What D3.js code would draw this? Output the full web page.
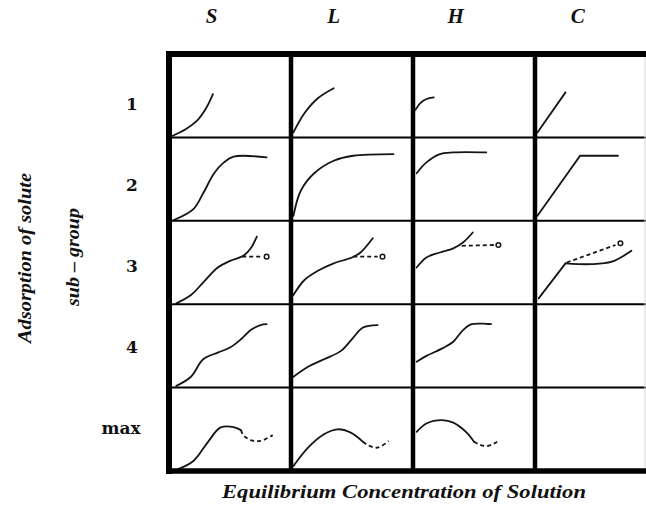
<!DOCTYPE html>
<html>
<head>
<meta charset="utf-8">
<script src="https://cdn.jsdelivr.net/npm/d3@7"></script>
<style>body{margin:0;background:#fff}svg{display:block}</style>
</head>
<body>
<svg id="chart" width="646" height="516"></svg>
<script>
// ---- data (cell-relative units: x 0..100 across cell, y 0..100 up cell) ----
const columns = ["S", "L", "H", "C"];
const rows = ["1", "2", "3", "4", "max"];
const xTitle = "Equilibrium Concentration of Solution";
const yTitle = "Adsorption of solute";
const yTitle2 = "sub \u2013 group";

const S1 = [[3,2],[14,10],[23,20],[30,34],[36,52]];
const L1 = [[2,6],[11,29],[22,47],[35,59]];
const H1 = [[2,33],[6,41],[11,46],[17,48]];
const C1 = [[2,6],[25,54]];

const S2 = [[4,1],[20,14],[28,33],[37,57],[45,70],[53,77],[80,76]];
const L2 = [[2,6],[8,36],[19,57],[35,72],[51,78],[84,80]];
const H2 = [[3,57],[11,70],[22,80],[33,82],[60,82]];
const C2 = [[2,6],[37,78],[68,78]];

const S3 = [[6,1],[18,11],[28,26],[40,44],[50,52],[61,58],[67,67],[72,81]];
const S3dash = [[60,57],[77,57]];
const S3mark = [80,57];
const L3 = [[2,11],[11,29],[22,40],[35,49],[50,56],[57,62],[67,79]];
const L3dash = [[51,57],[71,57]];
const L3mark = [75,57];
const H3 = [[3,44],[11,56],[22,62],[33,67],[41,74],[49,86]];
const H3dash = [[40,70],[67,71]];
const H3mark = [70,71];
const C3a = [[3,7],[25,49]];
const C3b = [[25,49],[46,48],[63,51],[79,64]];
const C3dash = [[26,50],[66,71]];
const C3mark = [70,73];

const S4 = [[6,2],[18,13],[28,34],[40,42],[50,48],[59,58],[67,69],[75,75],[80,76]];
const L4 = [[2,13],[14,25],[27,34],[41,44],[51,60],[59,72],[71,75]];
const H4 = [[3,31],[11,38],[24,47],[33,55],[41,69],[48,76],[64,76]];

const Smax = [[7,2],[20,12],[32,35],[42,52],[52,53],[59,49]];
const SmaxDash = [[59,49],[61,43],[67,37],[75,36],[85,43]];
const Lmax = [[2,6],[14,28],[27,44],[38,50],[49,46],[59,35]];
const LmaxDash = [[59,35],[63,31],[71,28],[80,36]];
const Hmax = [[3,47],[11,57],[24,61],[33,58],[44,46],[50,35]];
const HmaxDash = [[50,35],[54,32],[61,30],[69,35]];

const cells = [
  {col:"S", row:"1", solid:[S1]},
  {col:"L", row:"1", solid:[L1]},
  {col:"H", row:"1", solid:[H1]},
  {col:"C", row:"1", straight:[C1]},
  {col:"S", row:"2", solid:[S2]},
  {col:"L", row:"2", solid:[L2]},
  {col:"H", row:"2", solid:[H2]},
  {col:"C", row:"2", straight:[C2]},
  {col:"S", row:"3", solid:[S3], dash:[S3dash], mark:[S3mark]},
  {col:"L", row:"3", solid:[L3], dash:[L3dash], mark:[L3mark]},
  {col:"H", row:"3", solid:[H3], dash:[H3dash], mark:[H3mark]},
  {col:"C", row:"3", straight:[C3a], solid:[C3b], dash:[C3dash], mark:[C3mark]},
  {col:"S", row:"4", solid:[S4]},
  {col:"L", row:"4", solid:[L4]},
  {col:"H", row:"4", solid:[H4]},
  {col:"S", row:"max", solid:[Smax], dash:[SmaxDash]},
  {col:"L", row:"max", solid:[Lmax], dash:[LmaxDash]},
  {col:"H", row:"max", solid:[Hmax], dash:[HmaxDash]}
];

// ---- layout ----
const svg = d3.select("#chart");
const W = 646, H = 516;
const ink = "#151515";
const xBand = d3.scaleBand().domain(columns).range([169, 657]);
const yBand = d3.scaleBand().domain(rows).range([54, 471]);
const labelY = d3.scalePoint().domain(rows).range([103.5, 427.5]);

const serif = "Liberation Serif";

// curves
const gCurves = svg.append("g");
cells.forEach(c => {
  const x0 = xBand(c.col), y0 = yBand(c.row);
  const sx = d3.scaleLinear().domain([0, 100]).range([x0, x0 + xBand.bandwidth()]);
  const sy = d3.scaleLinear().domain([0, 100]).range([y0 + yBand.bandwidth(), y0]);
  const smooth = d3.line().x(d => sx(d[0])).y(d => sy(d[1])).curve(d3.curveCatmullRom.alpha(0.5));
  const lin = d3.line().x(d => sx(d[0])).y(d => sy(d[1]));
  (c.solid || []).forEach(pts => gCurves.append("path").attr("d", smooth(pts))
    .attr("fill", "none").attr("stroke", ink).attr("stroke-width", 1.8).attr("stroke-linecap", "round"));
  (c.straight || []).forEach(pts => gCurves.append("path").attr("d", lin(pts))
    .attr("fill", "none").attr("stroke", ink).attr("stroke-width", 1.8).attr("stroke-linecap", "round"));
  (c.dash || []).forEach(pts => gCurves.append("path").attr("d", smooth(pts))
    .attr("fill", "none").attr("stroke", ink).attr("stroke-width", 1.8).attr("stroke-dasharray", "4,3"));
  (c.mark || []).forEach(p => gCurves.append("circle").attr("cx", sx(p[0])).attr("cy", sy(p[1])).attr("r", 2.3)
    .attr("fill", "#fff").attr("stroke", ink).attr("stroke-width", 1.5));
});

// grid
const gGrid = svg.append("g").attr("stroke", "#000");
rows.slice(1).forEach(r => gGrid.append("line")
  .attr("x1", 169).attr("x2", W).attr("y1", yBand(r)).attr("y2", yBand(r)).attr("stroke-width", 2));
columns.slice(1).forEach(cn => gGrid.append("line")
  .attr("x1", xBand(cn)).attr("x2", xBand(cn)).attr("y1", 54).attr("y2", 471).attr("stroke-width", 4.5));
gGrid.append("line").attr("x1", 166).attr("x2", W).attr("y1", 54).attr("y2", 54).attr("stroke-width", 6);
gGrid.append("line").attr("x1", 166).attr("x2", W).attr("y1", 471).attr("y2", 471).attr("stroke-width", 5.5);
gGrid.append("line").attr("x1", 169).attr("x2", 169).attr("y1", 51).attr("y2", 474).attr("stroke-width", 6);
gGrid.append("line").attr("x1", 645).attr("x2", 645).attr("y1", 57).attr("y2", 468)
  .attr("stroke", "#d8d8d8").attr("stroke-width", 1);

// column headers
svg.append("g").selectAll("text").data(columns).join("text")
  .attr("x", d => xBand(d) + xBand.bandwidth() * 0.35)
  .attr("y", 23)
  .attr("text-anchor", "middle")
  .style("font-family", serif).style("font-weight", "bold").style("font-style", "italic")
  .style("font-size", "21px").attr("fill", "#111")
  .text(d => d);

// row labels
svg.append("g").selectAll("text").data(rows).join("text")
  .attr("x", d => d.length > 1 ? 121 : 132)
  .attr("y", d => labelY(d) + 6)
  .attr("text-anchor", "middle")
  .style("font-family", "DejaVu Serif").style("font-weight", "bold")
  .style("font-size", "17px").attr("fill", "#111")
  .text(d => d);

// axis titles
svg.append("text")
  .attr("transform", "translate(31,258) rotate(-90)")
  .attr("text-anchor", "middle")
  .style("font-family", serif).style("font-weight", "bold").style("font-style", "italic")
  .style("font-size", "19px").attr("fill", "#111")
  .attr("textLength", 170).attr("lengthAdjust", "spacingAndGlyphs")
  .text(yTitle);
svg.append("text")
  .attr("transform", "translate(79,257) rotate(-90)")
  .attr("text-anchor", "middle")
  .style("font-family", serif).style("font-weight", "bold").style("font-style", "italic")
  .style("font-size", "18px").attr("fill", "#111")
  .attr("textLength", 98).attr("lengthAdjust", "spacingAndGlyphs")
  .text(yTitle2);
svg.append("text")
  .attr("x", 404).attr("y", 498)
  .attr("text-anchor", "middle")
  .style("font-family", serif).style("font-weight", "bold").style("font-style", "italic")
  .style("font-size", "19px").attr("fill", "#111")
  .attr("textLength", 364).attr("lengthAdjust", "spacingAndGlyphs")
  .text(xTitle);
</script>
</body>
</html>
